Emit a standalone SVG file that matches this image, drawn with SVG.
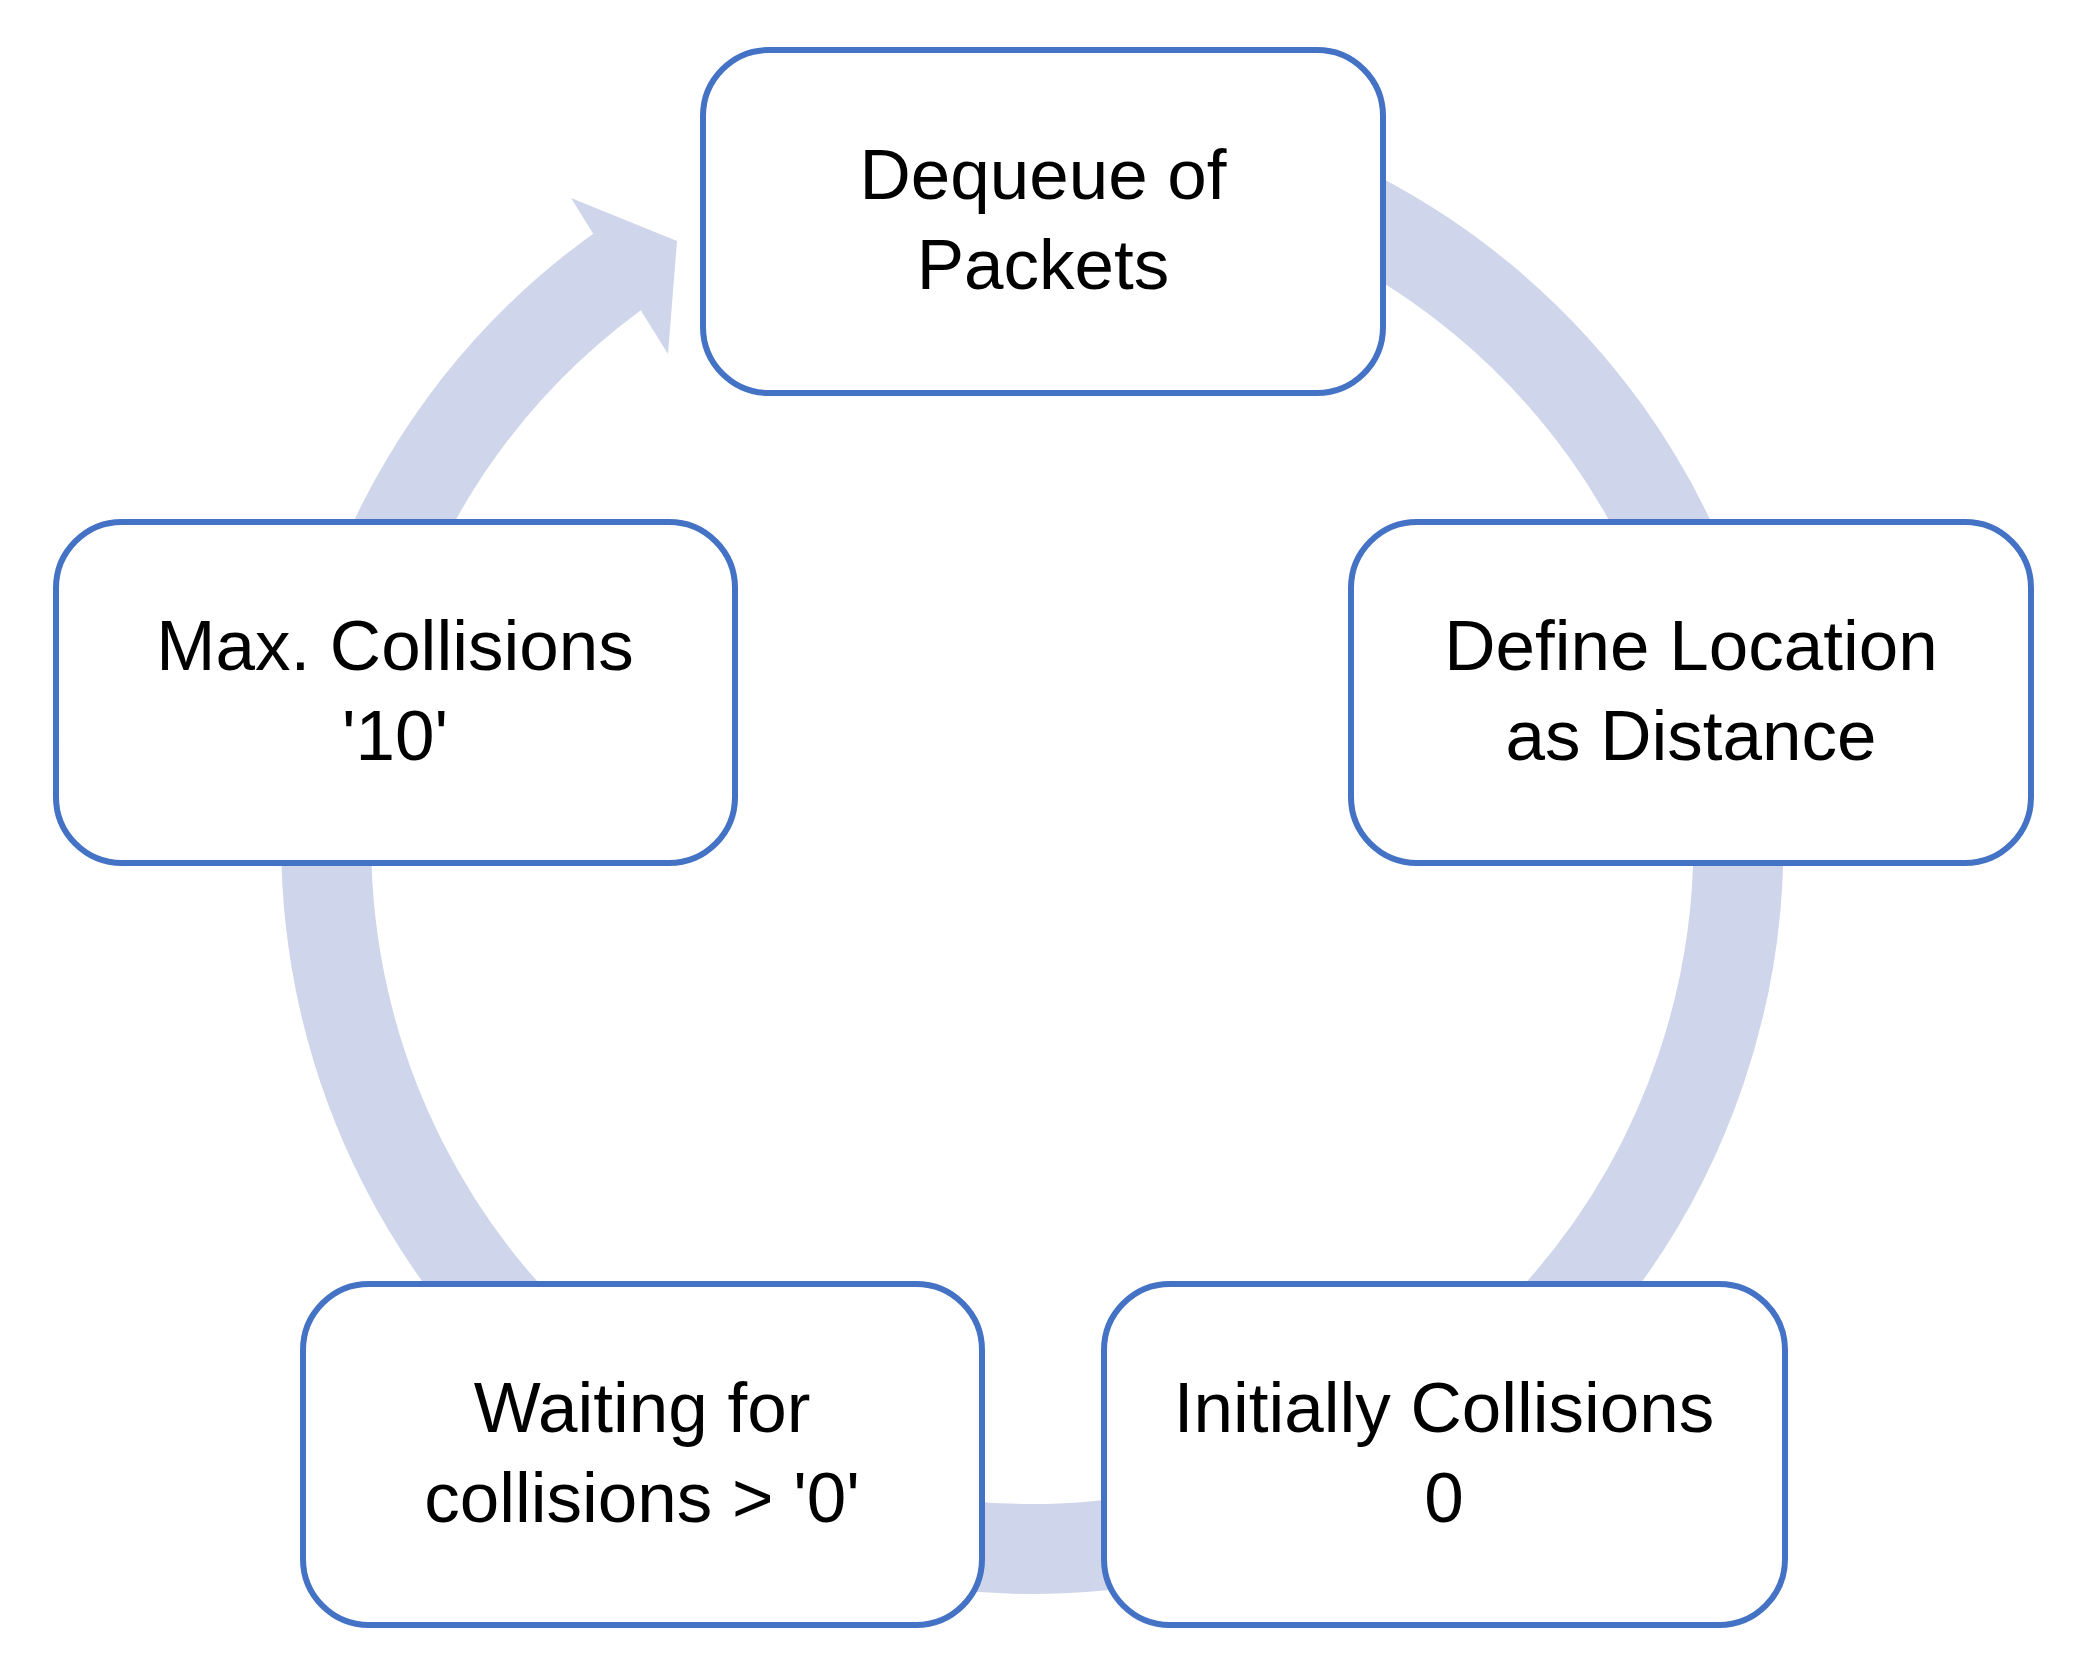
<svg xmlns="http://www.w3.org/2000/svg" width="2073" height="1663" viewBox="0 0 2073 1663">
<style>
.b{fill:#fff;stroke:#4472c4;stroke-width:6}
.t{font-family:"Liberation Sans",Arial,sans-serif;font-size:71px;fill:#000;text-anchor:middle}
</style>
<rect width="2073" height="1663" fill="#fff"/>
<g id="connectors">
<path d="M1032 137 A706 706 0 1 1 637 258" fill="none" stroke="#cfd5ea" stroke-width="90"/>
<polygon points="571,198 677,241 668,354" fill="#cfd5ea"/>
</g>
<g id="n1"><rect class="b" x="703" y="50" width="680" height="343" rx="66"/><text class="t" x="1043" y="199">Dequeue of</text><text class="t" x="1043" y="289">Packets</text></g>
<g id="n2"><rect class="b" x="1351" y="522" width="680" height="341" rx="66"/><text class="t" x="1691" y="670">Define Location</text><text class="t" x="1691" y="760">as Distance</text></g>
<g id="n3"><rect class="b" x="1104" y="1284" width="681" height="341" rx="66"/><text class="t" x="1444" y="1432">Initially Collisions</text><text class="t" x="1444" y="1522">0</text></g>
<g id="n4"><rect class="b" x="303" y="1284" width="679" height="341" rx="66"/><text class="t" x="642" y="1432">Waiting for</text><text class="t" x="642" y="1522">collisions &gt; '0'</text></g>
<g id="n5"><rect class="b" x="56" y="522" width="679" height="341" rx="66"/><text class="t" x="395" y="670">Max. Collisions</text><text class="t" x="395" y="760">'10'</text></g>
</svg>
